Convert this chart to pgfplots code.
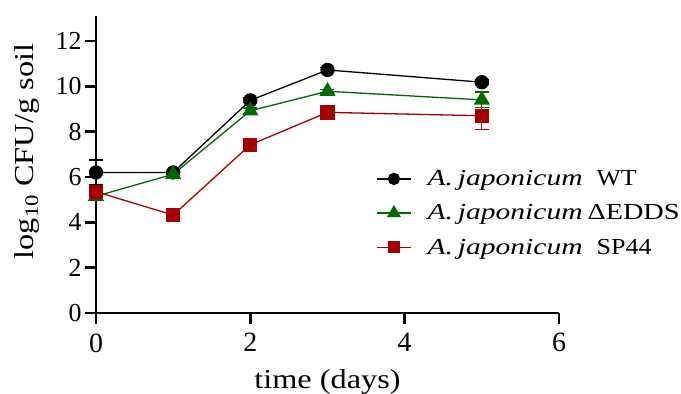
\documentclass[border=0pt]{standalone}
\usepackage{fontspec}
\usepackage{graphicx}
\setmainfont{Liberation Serif}
\newfontfamily\AxisLabelFace{Liberation Serif}[FakeStretch=1.18]
\usepackage{pgfplots}
\pgfplotsset{compat=1.18}
\definecolor{wtblack}{RGB}{0,0,0}
\definecolor{eddsgreen}{RGB}{0,105,0}
\definecolor{spred}{RGB}{165,0,0}
\newcommand{\LegSize}{\fontsize{23}{27}\selectfont}
% species name and strain tag, set to fixed widths so the legend rows line up
\newcommand{\Species}{\resizebox{155bp}{\height}{\LegSize\itshape A.\,japonicum}}
\newcommand{\Strain}[3]{\hspace{#1}\resizebox{#2}{\height}{\LegSize #3}}
\pgfplotsset{
  errstyle/.style={error bars/.cd, y dir=both, y explicit,
    error bar style={line width=1.3bp},
    error mark options={rotate=90, mark size=7bp, line width=1.3bp}},
  legline/.style={legend image code/.code={
    \draw[mark repeat=2, mark phase=2, mark options={scale=0.85}]
      plot coordinates {(0bp,0bp) (17bp,0bp) (34bp,0bp)};}},
}
\begin{document}
\begin{tikzpicture}
\begin{axis}[
  scale only axis,
  width=463bp, height=297bp,
  xmin=0, xmax=6, ymin=0, ymax=13.1,
  axis x line=bottom, axis y line=left,
  axis line style={line width=2.6bp,-},
  xtick={0,2,4,6}, ytick={0,2,...,12},
  tick style={line width=2.6bp,black},
  major tick length=11bp,
  tick align=outside,
  minor tick num=0,
  /pgf/number format/assume math mode=true,
  yticklabel style={font=\fontsize{26}{30}\selectfont},
  xticklabel style={font=\fontsize{28}{32}\selectfont, yshift=-6bp},
  label style={font=\AxisLabelFace\fontsize{27.5}{32}\selectfont},
  xlabel={time (days)},
  ylabel={log\textsubscript{10} CFU/g soil},
  xlabel style={yshift=-10bp},
  ylabel style={yshift=9bp, xshift=13bp},
  legend style={draw=none, fill=none, at={(0.605,0.487)}, anchor=north west,
    inner xsep=0pt, inner ysep=0pt,
    font=\LegSize, row sep=13.5bp,
    /tikz/every odd column/.append style={column sep=14bp}},
  legend cell align=left,
  legline,
  clip=false,
]
\addplot[wtblack, line width=1.3bp, mark=*, mark size=6.5bp, errstyle]
  table[x=x, y=y, y error=e] {
x y e
0 6.20 0.55
1 6.20 0.10
2 9.38 0.10
3 10.72 0.10
5 10.18 0.10
};
\addlegendentry{\Species\Strain{14bp}{40bp}{WT}}
\addplot[eddsgreen, line width=1.3bp, mark=triangle*, mark size=8bp, errstyle]
  table[x=x, y=y, y error=e] {
x y e
0 5.15 0.12
1 6.12 0.10
2 8.92 0.12
3 9.78 0.08
5 9.40 0.35
};
\addlegendentry{\Species\Strain{5bp}{92bp}{ΔEDDS}}
\addplot[spred, line width=1.3bp, mark=square*, mark size=6.5bp, errstyle]
  table[x=x, y=y, y error=e] {
x y e
0 5.35 0.20
1 4.32 0.10
2 7.42 0.10
3 8.85 0.10
5 8.70 0.60
};
\addlegendentry{\Species\Strain{14bp}{55bp}{SP44}}
\coordinate (bbl) at (rel axis cs:-0.20734,-0.26936);
\coordinate (btr) at (rel axis cs:1.26350,1.05387);
\end{axis}
\pgfresetboundingbox
\useasboundingbox (bbl) rectangle (btr);
\end{tikzpicture}
\end{document}
